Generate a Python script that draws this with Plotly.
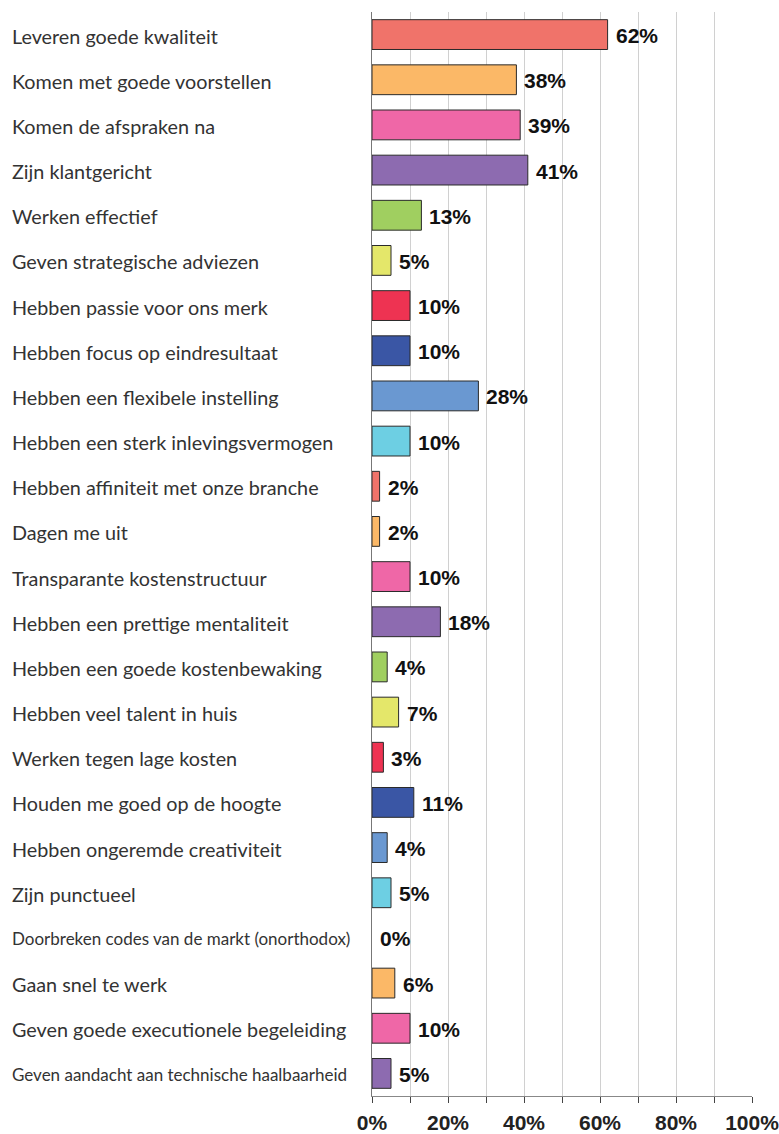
import plotly.graph_objects as go

categories = [
    "Leveren goede kwaliteit",
    "Komen met goede voorstellen",
    "Komen de afspraken na",
    "Zijn klantgericht",
    "Werken effectief",
    "Geven strategische adviezen",
    "Hebben passie voor ons merk",
    "Hebben focus op eindresultaat",
    "Hebben een flexibele instelling",
    "Hebben een sterk inlevingsvermogen",
    "Hebben affiniteit met onze branche",
    "Dagen me uit",
    "Transparante kostenstructuur",
    "Hebben een prettige mentaliteit",
    "Hebben een goede kostenbewaking",
    "Hebben veel talent in huis",
    "Werken tegen lage kosten",
    "Houden me goed op de hoogte",
    "Hebben ongeremde creativiteit",
    "Zijn punctueel",
    "Doorbreken codes van de markt (onorthodox)",
    "Gaan snel te werk",
    "Geven goede executionele begeleiding",
    "Geven aandacht aan technische haalbaarheid",
]
values = [62, 38, 39, 41, 13, 5, 10, 10, 28, 10, 2, 2, 10, 18, 4, 7, 3, 11, 4, 5, 0, 6, 10, 5]
palette = ["#F0736A", "#FBB867", "#EF67A7", "#8D6BB0", "#A0CF60",
           "#E4E76A", "#EE3352", "#3A56A5", "#6A98D1", "#6DCFE3"]
small_labels = {"Doorbreken codes van de markt (onorthodox)",
                "Geven aandacht aan technische haalbaarheid"}
tick_vals = [0, 10, 20, 30, 40, 50, 60, 70, 80, 90, 100]
tick_text = ["0%", "", "20%", "", "40%", "", "60%", "", "80%", "", "100%"]

colors = [palette[i % len(palette)] for i in range(len(categories))]
line_widths = [1 if v > 0 else 0 for v in values]

W, H = 779, 1134
ML, MR, MT, MB = 372, 27, 12, 38
plot_w = W - ML - MR

fig = go.Figure()
fig.add_trace(go.Bar(
    x=values, y=categories, orientation="h",
    marker=dict(color=colors, line=dict(color="#2a2a2a", width=line_widths)),
    width=0.66, hoverinfo="skip",
))

annotations = []
for c, v in zip(categories, values):
    annotations.append(dict(
        x=v, y=c, xref="x", yref="y", text=f"{v}%", showarrow=False,
        xanchor="left", yanchor="middle", xshift=6, yshift=-1,
        font=dict(family="Liberation Sans, Arial", size=21, color="#111111",
                  weight="bold"),
    ))
    annotations.append(dict(
        x=-(ML - 9.5) / plot_w, y=c, xref="paper", yref="y", text=c,
        showarrow=False, xanchor="left", yanchor="middle", yshift=-1,
        font=dict(family="Lato", size=17 if c in small_labels else 19.8,
                  color="#333333"),
    ))

fig.update_layout(
    width=W, height=H,
    margin=dict(l=ML, r=MR, t=MT, b=MB, pad=0, autoexpand=False),
    paper_bgcolor="white", plot_bgcolor="white",
    showlegend=False,
    annotations=annotations,
    xaxis=dict(
        range=[0, 100], tickvals=tick_vals, ticktext=tick_text,
        showgrid=True, gridcolor="#d0d0d0", gridwidth=1,
        ticks="outside", ticklen=6, tickcolor="#444444", tickwidth=1,
        showline=True, linecolor="#888888", linewidth=1,
        tickfont=dict(family="Liberation Sans, Arial", size=21, color="#222222",
                      weight="bold"),
        ticklabeloverflow="allow", ticklabelstandoff=2,
        zeroline=False, fixedrange=True, automargin=False,
    ),
    yaxis=dict(
        autorange="reversed", showticklabels=False, ticks="",
        showline=True, linecolor="#777777", linewidth=1,
        showgrid=False, zeroline=False, fixedrange=True, automargin=False,
    ),
)

fig.write_html("out.html")
